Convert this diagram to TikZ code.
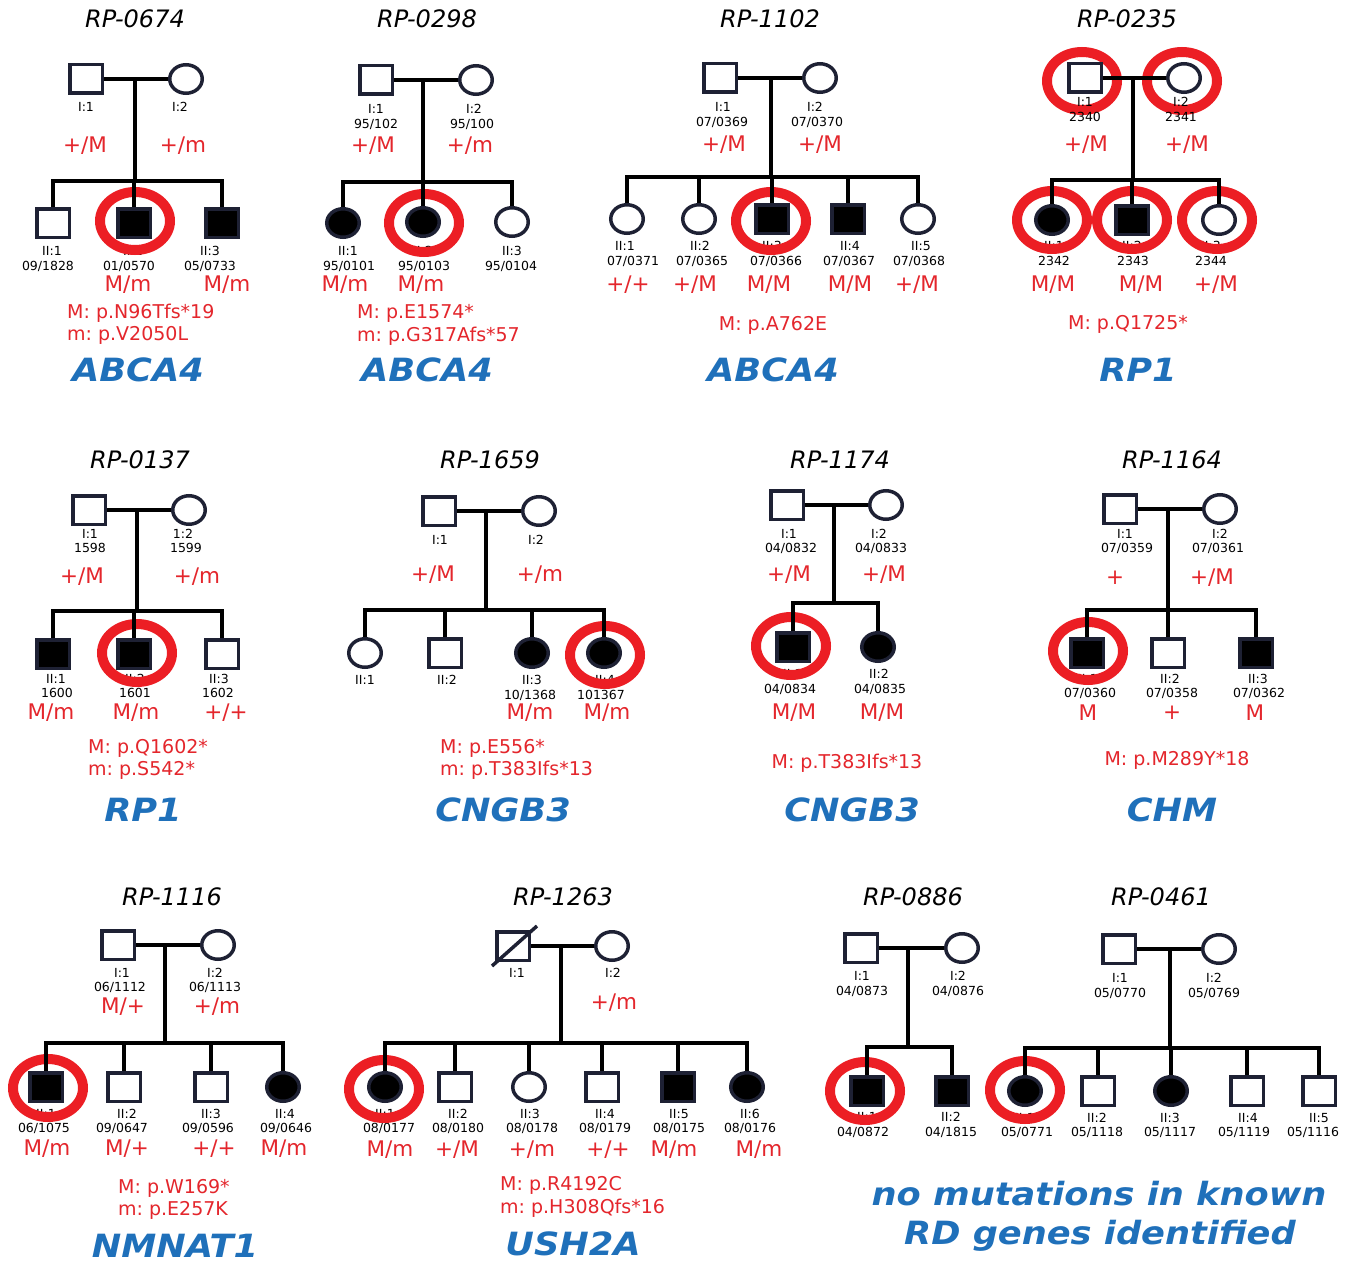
\documentclass[tikz,border=0pt]{standalone}
\usepackage{fontspec}
\usepackage{graphicx}
\setmainfont{DejaVu Sans}
\frenchspacing
\usetikzlibrary{shapes.geometric}
\definecolor{redt}{RGB}{228,38,44}
\definecolor{ringc}{RGB}{236,30,36}
\definecolor{blueg}{RGB}{31,112,186}
\definecolor{symc}{RGB}{30,33,52}
\pgfdeclarelayer{bgl}\pgfdeclarelayer{lab}\pgfdeclarelayer{ringl}\pgfdeclarelayer{linkl}
\pgfsetlayers{bgl,lab,ringl,linkl,main}
\tikzset{
  sym/.style={draw=symc, line width=3.5pt, inner sep=0pt, outer sep=0pt, fill=white},
  male/.style={sym, rectangle, minimum width=32.5pt, minimum height=28.5pt},
  female/.style={sym, ellipse, minimum width=32.5pt, minimum height=28.5pt},
  aff/.style={fill=black},
  ring/.style={draw=ringc, line width=10pt, ellipse, inner sep=0pt, minimum width=70pt, minimum height=58pt},
  lnk/.style={draw=black, line width=4.5pt},
  idl/.style={font=\fontsize{12.5}{14}\selectfont, text=black, inner sep=0pt},
  gt/.style={font=\fontsize{21.5}{24}\selectfont, text=redt, inner sep=0pt},
  mutl/.style={font=\fontsize{19}{22}\selectfont, text=redt, inner sep=0pt, anchor=west},
  mutc/.style={font=\fontsize{19}{22}\selectfont, text=redt, inner sep=0pt},
  gene/.style={font=\fontsize{32}{36}\selectfont\bfseries\itshape, text=blueg, inner sep=0pt},
  ttl/.style={font=\fontsize{24}{28}\selectfont\itshape, text=black, inner sep=0pt},
}
\newcommand\lbl[4]{\node[idl] (#1) at (#2,#3) {#4};}
\newcommand\gtp[4]{\node[gt] (#1) at (#2,#3) {#4};}
\newcommand\rng[3]{\node[ring] (#1) at (#2,#3) {};}
\newcommand\gn[1]{\scalebox{1.1}[1]{#1}}
\begin{document}
\begin{tikzpicture}[x=1pt,y=-1pt]
\begin{pgfonlayer}{bgl}
\fill[white] (0,0) rectangle (1350,1263);
\end{pgfonlayer}
\useasboundingbox (0,0) rectangle (1350,1263);

% ================= symbols =================
% RP-0674
\node[male] (A1) at (86,79) {};
\node[female] (A2) at (186,79) {};
\node[male] (A3) at (53,223) {};
\node[male,aff] (A4) at (134,223) {};
\node[male,aff] (A5) at (222,223) {};
\coordinate (AM) at (135,79); \coordinate (AS) at (135,181);
% RP-0298
\node[male] (B1) at (376,80) {};
\node[female] (B2) at (476,80) {};
\node[female,aff] (B3) at (343,223) {};
\node[female,aff] (B4) at (423,222) {};
\node[female] (B5) at (512,222) {};
\coordinate (BM) at (423,80); \coordinate (BS) at (423,182);
% RP-1102
\node[male] (C1) at (720,78) {};
\node[female] (C2) at (820,78) {};
\node[female] (C3) at (627,219) {};
\node[female] (C4) at (699,219) {};
\node[male,aff] (C5) at (772,219) {};
\node[male,aff] (C6) at (848,219) {};
\node[female] (C7) at (918,219) {};
\coordinate (CM) at (771,78); \coordinate (CS) at (771,177);
% RP-0235
\node[male] (D1) at (1085,78) {};
\node[female] (D2) at (1184,78) {};
\node[female,aff] (D3) at (1052,220) {};
\node[male,aff] (D4) at (1132,220) {};
\node[female] (D5) at (1219,220) {};
\coordinate (DM) at (1133,78); \coordinate (DS) at (1133,180);
% RP-0137
\node[male] (E1) at (89,510) {};
\node[female] (E2) at (189,510) {};
\node[male,aff] (E3) at (53,654) {};
\node[male,aff] (E4) at (134,654) {};
\node[male] (E5) at (222,654) {};
\coordinate (EM) at (137,510); \coordinate (ES) at (137,611);
% RP-1659
\node[male] (F1) at (439,511) {};
\node[female] (F2) at (539,511) {};
\node[female] (F3) at (365,653) {};
\node[male] (F4) at (445,653) {};
\node[female,aff] (F5) at (532,653) {};
\node[female,aff] (F6) at (604,653) {};
\coordinate (FM) at (486,511); \coordinate (FS) at (486,610);
% RP-1174
\node[male] (G1) at (787,505) {};
\node[female] (G2) at (886,505) {};
\node[male,aff] (G3) at (793,647) {};
\node[female,aff] (G4) at (878,647) {};
\coordinate (GM) at (834,505); \coordinate (GS) at (834,603);
% RP-1164
\node[male] (H1) at (1120,509) {};
\node[female] (H2) at (1220,509) {};
\node[male,aff] (H3) at (1087,653) {};
\node[male] (H4) at (1168,653) {};
\node[male,aff] (H5) at (1256,653) {};
\coordinate (HM) at (1168,509); \coordinate (HS) at (1168,610);
% RP-1116
\node[male] (I1) at (118,945) {};
\node[female] (I2) at (218,945) {};
\node[male,aff] (I3) at (46,1087) {};
\node[male] (I4) at (124,1087) {};
\node[male] (I5) at (211,1087) {};
\node[female,aff] (I6) at (283,1087) {};
\coordinate (IM) at (165,945); \coordinate (IS) at (165,1043);
% RP-1263
\node[male] (J1) at (513,946) {};
\node[female] (J2) at (612,946) {};
\node[female,aff] (J3) at (385,1087) {};
\node[male] (J4) at (455,1087) {};
\node[female] (J5) at (529,1087) {};
\node[male] (J6) at (602,1087) {};
\node[male,aff] (J7) at (678,1087) {};
\node[female,aff] (J8) at (747,1087) {};
\coordinate (JM) at (561,946); \coordinate (JS) at (561,1043);
\draw[symc, line width=3.5pt] ([shift={(-21,20)}]J1.center) -- ([shift={(24,-20)}]J1.center);
% RP-0886
\node[male] (K1) at (861,948) {};
\node[female] (K2) at (962,948) {};
\node[male,aff] (K3) at (867,1091) {};
\node[male,aff] (K4) at (952,1091) {};
\coordinate (KM) at (908,948); \coordinate (KS) at (908,1047);
% RP-0461
\node[male] (L1) at (1119,949) {};
\node[female] (L2) at (1219,949) {};
\node[female,aff] (L3) at (1025,1091) {};
\node[male] (L4) at (1098,1091) {};
\node[female,aff] (L5) at (1171,1091) {};
\node[male] (L6) at (1247,1091) {};
\node[male] (L7) at (1319,1091) {};
\coordinate (LM) at (1170,949); \coordinate (LS) at (1170,1048);

% ================= links =================
\begin{pgfonlayer}{linkl}
\draw[lnk] (A1) -- (A2); \draw[lnk] (AM) -- (AS);
\draw[lnk] (A3) -- (A3 |- AS) -- (A5 |- AS) -- (A5);
\draw[lnk] (A4) -- (A4 |- AS);

\draw[lnk] (B1) -- (B2); \draw[lnk] (BM) -- (BS);
\draw[lnk] (B3) -- (B3 |- BS) -- (B5 |- BS) -- (B5);
\draw[lnk] (B4) -- (B4 |- BS);

\draw[lnk] (C1) -- (C2); \draw[lnk] (CM) -- (CS);
\draw[lnk] (C3) -- (C3 |- CS) -- (C7 |- CS) -- (C7);
\draw[lnk] (C4) -- (C4 |- CS);
\draw[lnk] (C5) -- (C5 |- CS);
\draw[lnk] (C6) -- (C6 |- CS);

\draw[lnk] (D1) -- (D2); \draw[lnk] (DM) -- (DS);
\draw[lnk] (D3) -- (D3 |- DS) -- (D5 |- DS) -- (D5);
\draw[lnk] (D4) -- (D4 |- DS);

\draw[lnk] (E1) -- (E2); \draw[lnk] (EM) -- (ES);
\draw[lnk] (E3) -- (E3 |- ES) -- (E5 |- ES) -- (E5);
\draw[lnk] (E4) -- (E4 |- ES);

\draw[lnk] (F1) -- (F2); \draw[lnk] (FM) -- (FS);
\draw[lnk] (F3) -- (F3 |- FS) -- (F6 |- FS) -- (F6);
\draw[lnk] (F4) -- (F4 |- FS);
\draw[lnk] (F5) -- (F5 |- FS);

\draw[lnk] (G1) -- (G2); \draw[lnk] (GM) -- (GS);
\draw[lnk] (G3) -- (G3 |- GS) -- (G4 |- GS) -- (G4);

\draw[lnk] (H1) -- (H2); \draw[lnk] (HM) -- (HS);
\draw[lnk] (H3) -- (H3 |- HS) -- (H5 |- HS) -- (H5);
\draw[lnk] (H4) -- (H4 |- HS);

\draw[lnk] (I1) -- (I2); \draw[lnk] (IM) -- (IS);
\draw[lnk] (I3) -- (I3 |- IS) -- (I6 |- IS) -- (I6);
\draw[lnk] (I4) -- (I4 |- IS);
\draw[lnk] (I5) -- (I5 |- IS);

\draw[lnk] (J1) -- (J2); \draw[lnk] (JM) -- (JS);
\draw[lnk] (J3) -- (J3 |- JS) -- (J8 |- JS) -- (J8);
\draw[lnk] (J4) -- (J4 |- JS);
\draw[lnk] (J5) -- (J5 |- JS);
\draw[lnk] (J6) -- (J6 |- JS);
\draw[lnk] (J7) -- (J7 |- JS);

\draw[lnk] (K1) -- (K2); \draw[lnk] (KM) -- (KS);
\draw[lnk] (K3) -- (K3 |- KS) -- (K4 |- KS) -- (K4);

\draw[lnk] (L1) -- (L2); \draw[lnk] (LM) -- (LS);
\draw[lnk] (L3) -- (L3 |- LS) -- (L7 |- LS) -- (L7);
\draw[lnk] (L4) -- (L4 |- LS);
\draw[lnk] (L5) -- (L5 |- LS);
\draw[lnk] (L6) -- (L6 |- LS);

% RP-0235 parent labels above the rings
\lbl{Dl1}{1085}{102}{I:1} \lbl{Dl2}{1085}{117}{2340}
\lbl{Dl3}{1181}{102}{I:2} \lbl{Dl4}{1181}{117}{2341}
\end{pgfonlayer}

% ================= rings =================
\begin{pgfonlayer}{ringl}
\rng{Ar}{135}{221}
\rng{Br}{424}{223}
\rng{Cr}{771}{221}
\rng{Dr1}{1082}{81} \rng{Dr2}{1182}{81}
\rng{Dr3}{1052}{220} \rng{Dr4}{1132}{220} \rng{Dr5}{1217}{220}
\rng{Er}{137}{653}
\rng{Fr}{605}{655}
\rng{Gr}{791}{646}
\rng{Hr}{1088}{651}
\rng{Ir}{48}{1088}
\rng{Jr}{384}{1089}
\rng{Kr}{865}{1091}
\rng{Lr}{1025}{1090}
\end{pgfonlayer}

% ================= labels =================
\begin{pgfonlayer}{lab}
% RP-0674
\node[ttl] (At) at (135,19) {RP-0674};
\lbl{Al1}{86}{107}{I:1} \lbl{Al2}{180}{107}{I:2}
\gtp{Ag1}{85}{146}{+/M} \gtp{Ag2}{183}{146}{+/m}
\lbl{Al3}{52}{251}{II:1} \lbl{Al4}{48}{266}{09/1828}
\lbl{Al5}{133}{251}{II:2} \lbl{Al6}{129}{266}{01/0570}
\lbl{Al7}{210}{251}{II:3} \lbl{Al8}{210}{266}{05/0733}
\gtp{Ag3}{128}{285}{M/m} \gtp{Ag4}{227}{285}{M/m}
\node[mutl] (Am1) at (67,313) {M: p.N96Tfs*19};
\node[mutl] (Am2) at (67,335) {m: p.V2050L};
\node[gene] (Ag) at (138,370) {\gn{ABCA4}};
% RP-0298
\node[ttl] (Bt) at (427,19) {RP-0298};
\lbl{Bl1}{376}{109}{I:1} \lbl{Bl2}{376}{124}{95/102}
\lbl{Bl3}{474}{109}{I:2} \lbl{Bl4}{472}{124}{95/100}
\gtp{Bg1}{373}{146}{+/M} \gtp{Bg2}{470}{146}{+/m}
\lbl{Bl5}{348}{251}{II:1} \lbl{Bl6}{349}{266}{95/0101}
\lbl{Bl7}{423}{251}{II:2} \lbl{Bl8}{424}{266}{95/0103}
\lbl{Bl9}{512}{251}{II:3} \lbl{Bl10}{511}{266}{95/0104}
\gtp{Bg3}{345}{285}{M/m} \gtp{Bg4}{421}{285}{M/m}
\node[mutl] (Bm1) at (357,313) {M: p.E1574*};
\node[mutl] (Bm2) at (357,336) {m: p.G317Afs*57};
\node[gene] (Bg) at (427,370) {\gn{ABCA4}};
% RP-1102
\node[ttl] (Ct) at (770,19) {RP-1102};
\lbl{Cl1}{723}{107}{I:1} \lbl{Cl2}{722}{122}{07/0369}
\lbl{Cl3}{815}{107}{I:2} \lbl{Cl4}{817}{122}{07/0370}
\gtp{Cg1}{724}{145}{+/M} \gtp{Cg2}{820}{145}{+/M}
\lbl{Cl5}{625}{246}{II:1} \lbl{Cl6}{633}{261}{07/0371}
\lbl{Cl7}{700}{246}{II:2} \lbl{Cl8}{702}{261}{07/0365}
\lbl{Cl9}{772}{246}{II:3} \lbl{Cl10}{776}{261}{07/0366}
\lbl{Cl11}{850}{246}{II:4} \lbl{Cl12}{849}{261}{07/0367}
\lbl{Cl13}{921}{246}{II:5} \lbl{Cl14}{919}{261}{07/0368}
\gtp{Cg3}{628}{285}{+/+} \gtp{Cg4}{695}{285}{+/M} \gtp{Cg5}{769}{285}{M/M}
\gtp{Cg6}{850}{285}{M/M} \gtp{Cg7}{917}{285}{+/M}
\node[mutc] (Cm1) at (773,325) {M: p.A762E};
\node[gene] (Cg) at (773,370) {\gn{ABCA4}};
% RP-0235
\node[ttl] (Dt) at (1127,19) {RP-0235};
\gtp{Dg1}{1086}{145}{+/M} \gtp{Dg2}{1187}{145}{+/M}
\lbl{Dl5}{1054}{246}{II:1} \lbl{Dl6}{1054}{261}{2342}
\lbl{Dl7}{1132}{246}{II:2} \lbl{Dl8}{1133}{261}{2343}
\lbl{Dl9}{1211}{246}{II:3} \lbl{Dl10}{1211}{261}{2344}
\gtp{Dg3}{1053}{285}{M/M} \gtp{Dg4}{1141}{285}{M/M} \gtp{Dg5}{1216}{285}{+/M}
\node[mutc] (Dm1) at (1128,324) {M: p.Q1725*};
\node[gene] (Dg) at (1138,370) {\gn{RP1}};
% RP-0137
\node[ttl] (Et) at (140,460) {RP-0137};
\lbl{El1}{90}{534}{I:1} \lbl{El2}{90}{548}{1598}
\lbl{El3}{183}{534}{1:2} \lbl{El4}{186}{548}{1599}
\gtp{Eg1}{82}{577}{+/M} \gtp{Eg2}{197}{577}{+/m}
\lbl{El5}{56}{679}{II:1} \lbl{El6}{57}{693}{1600}
\lbl{El7}{135}{679}{II:2} \lbl{El8}{135}{693}{1601}
\lbl{El9}{219}{679}{II:3} \lbl{El10}{218}{693}{1602}
\gtp{Eg3}{51}{713}{M/m} \gtp{Eg4}{136}{713}{M/m} \gtp{Eg5}{226}{713}{+/+}
\node[mutl] (Em1) at (88,748) {M: p.Q1602*};
\node[mutl] (Em2) at (88,770) {m: p.S542*};
\node[gene] (Eg) at (143,810) {\gn{RP1}};
% RP-1659
\node[ttl] (Ft) at (490,460) {RP-1659};
\lbl{Fl1}{440}{540}{I:1} \lbl{Fl2}{536}{540}{I:2}
\gtp{Fg1}{433}{575}{+/M} \gtp{Fg2}{540}{575}{+/m}
\lbl{Fl3}{365}{680}{II:1} \lbl{Fl4}{447}{680}{II:2}
\lbl{Fl5}{532}{680}{II:3} \lbl{Fl6}{530}{695}{10/1368}
\lbl{Fl7}{605}{680}{II:4} \lbl{Fl8}{601}{695}{101367}
\gtp{Fg3}{530}{713}{M/m} \gtp{Fg4}{607}{713}{M/m}
\node[mutl] (Fm1) at (440,748) {M: p.E556*};
\node[mutl] (Fm2) at (440,770) {m: p.T383Ifs*13};
\node[gene] (Fg) at (503,810) {\gn{CNGB3}};
% RP-1174
\node[ttl] (Gt) at (840,460) {RP-1174};
\lbl{Gl1}{789}{534}{I:1} \lbl{Gl2}{791}{548}{04/0832}
\lbl{Gl3}{879}{534}{I:2} \lbl{Gl4}{881}{548}{04/0833}
\gtp{Gg1}{789}{575}{+/M} \gtp{Gg2}{884}{575}{+/M}
\lbl{Gl5}{793}{674}{II:1} \lbl{Gl6}{790}{689}{04/0834}
\lbl{Gl7}{879}{674}{II:2} \lbl{Gl8}{880}{689}{04/0835}
\gtp{Gg3}{794}{713}{M/M} \gtp{Gg4}{882}{713}{M/M}
\node[mutc] (Gm1) at (847,763) {M: p.T383Ifs*13};
\node[gene] (Gg) at (852,810) {\gn{CNGB3}};
% RP-1164
\node[ttl] (Ht) at (1172,460) {RP-1164};
\lbl{Hl1}{1125}{534}{I:1} \lbl{Hl2}{1127}{548}{07/0359}
\lbl{Hl3}{1220}{534}{I:2} \lbl{Hl4}{1218}{548}{07/0361}
\gtp{Hg1}{1115}{578}{+} \gtp{Hg2}{1212}{578}{+/M}
\lbl{Hl5}{1088}{679}{II:1} \lbl{Hl6}{1090}{693}{07/0360}
\lbl{Hl7}{1170}{679}{II:2} \lbl{Hl8}{1172}{693}{07/0358}
\lbl{Hl9}{1258}{679}{II:3} \lbl{Hl10}{1259}{693}{07/0362}
\gtp{Hg3}{1088}{713}{M} \gtp{Hg4}{1172}{713}{+} \gtp{Hg5}{1255}{713}{M}
\node[mutc] (Hm1) at (1177,760) {M: p.M289Y*18};
\node[gene] (Hg) at (1172,810) {\gn{CHM}};
% RP-1116
\node[ttl] (It) at (172,897) {RP-1116};
\lbl{Il1}{122}{973}{I:1} \lbl{Il2}{120}{987}{06/1112}
\lbl{Il3}{215}{973}{I:2} \lbl{Il4}{215}{987}{06/1113}
\gtp{Ig1}{123}{1007}{M/+} \gtp{Ig2}{217}{1007}{+/m}
\lbl{Il5}{46}{1114}{II:1} \lbl{Il6}{44}{1128}{06/1075}
\lbl{Il7}{127}{1114}{II:2} \lbl{Il8}{122}{1128}{09/0647}
\lbl{Il9}{211}{1114}{II:3} \lbl{Il10}{208}{1128}{09/0596}
\lbl{Il11}{285}{1114}{II:4} \lbl{Il12}{286}{1128}{09/0646}
\gtp{Ig3}{47}{1149}{M/m} \gtp{Ig4}{127}{1149}{M/+} \gtp{Ig5}{214}{1149}{+/+} \gtp{Ig6}{284}{1149}{M/m}
\node[mutl] (Im1) at (118,1188) {M: p.W169*};
\node[mutl] (Im2) at (118,1210) {m: p.E257K};
\node[gene] (Ig) at (175,1246) {\gn{NMNAT1}};
% RP-1263
\node[ttl] (Jt) at (563,897) {RP-1263};
\lbl{Jl1}{517}{973}{I:1} \lbl{Jl2}{613}{973}{I:2}
\gtp{Jg1}{614}{1003}{+/m}
\lbl{Jl3}{385}{1114}{II:1} \lbl{Jl4}{389}{1128}{08/0177}
\lbl{Jl5}{458}{1114}{II:2} \lbl{Jl6}{458}{1128}{08/0180}
\lbl{Jl7}{530}{1114}{II:3} \lbl{Jl8}{532}{1128}{08/0178}
\lbl{Jl9}{605}{1114}{II:4} \lbl{Jl10}{605}{1128}{08/0179}
\lbl{Jl11}{679}{1114}{II:5} \lbl{Jl12}{679}{1128}{08/0175}
\lbl{Jl13}{750}{1114}{II:6} \lbl{Jl14}{750}{1128}{08/0176}
\gtp{Jg2}{390}{1150}{M/m} \gtp{Jg3}{457}{1150}{+/M} \gtp{Jg4}{532}{1150}{+/m}
\gtp{Jg5}{608}{1150}{+/+} \gtp{Jg6}{674}{1150}{M/m} \gtp{Jg7}{759}{1150}{M/m}
\node[mutl] (Jm1) at (500,1185) {M: p.R4192C};
\node[mutl] (Jm2) at (500,1208) {m: p.H308Qfs*16};
\node[gene] (Jg) at (573,1244) {\gn{USH2A}};
% RP-0886
\node[ttl] (Kt) at (913,897) {RP-0886};
\lbl{Kl1}{862}{976}{I:1} \lbl{Kl2}{862}{991}{04/0873}
\lbl{Kl3}{958}{976}{I:2} \lbl{Kl4}{958}{991}{04/0876}
\lbl{Kl5}{867}{1117}{II:1} \lbl{Kl6}{863}{1132}{04/0872}
\lbl{Kl7}{951}{1117}{II:2} \lbl{Kl8}{951}{1132}{04/1815}
% RP-0461
\node[ttl] (Lt) at (1161,897) {RP-0461};
\lbl{Ll1}{1120}{978}{I:1} \lbl{Ll2}{1120}{993}{05/0770}
\lbl{Ll3}{1214}{978}{I:2} \lbl{Ll4}{1214}{993}{05/0769}
\lbl{Ll5}{1025}{1118}{II:1} \lbl{Ll6}{1027}{1132}{05/0771}
\lbl{Ll7}{1097}{1118}{II:2} \lbl{Ll8}{1097}{1132}{05/1118}
\lbl{Ll9}{1170}{1118}{II:3} \lbl{Ll10}{1170}{1132}{05/1117}
\lbl{Ll11}{1248}{1118}{II:4} \lbl{Ll12}{1244}{1132}{05/1119}
\lbl{Ll13}{1319}{1118}{II:5} \lbl{Ll14}{1313}{1132}{05/1116}
\node[gene] (fn1) at (1099,1194) {\gn{no mutations in known}};
\node[gene] (fn2) at (1100,1236) {\gn{RD genes identified}};
\end{pgfonlayer}
\end{tikzpicture}
\end{document}
